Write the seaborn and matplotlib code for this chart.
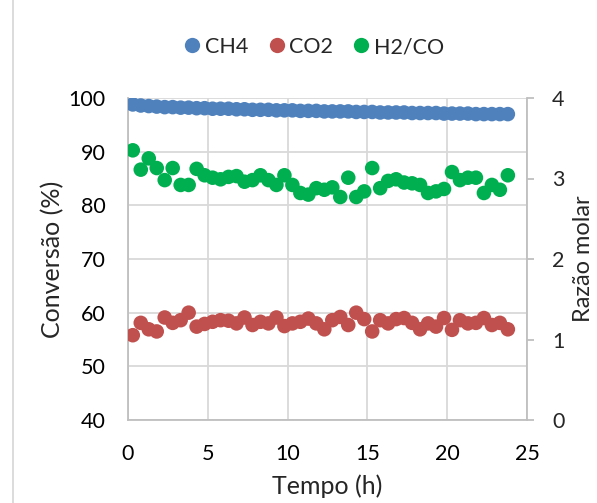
import numpy as np
import pandas as pd
import matplotlib
matplotlib.use("Agg")
from matplotlib import pyplot as plt
from matplotlib.lines import Line2D
import seaborn as sns

# tempo (h) - um ponto a cada 0,5 h
tempo = [0.3, 0.8, 1.3, 1.8, 2.3, 2.8, 3.3, 3.8, 4.3, 4.8, 5.3, 5.8,
         6.3, 6.8, 7.3, 7.8, 8.3, 8.8, 9.3, 9.8, 10.3, 10.8, 11.3, 11.8,
         12.3, 12.8, 13.3, 13.8, 14.3, 14.8, 15.3, 15.8, 16.3, 16.8, 17.3, 17.8,
         18.3, 18.8, 19.3, 19.8, 20.3, 20.8, 21.3, 21.8, 22.3, 22.8, 23.3, 23.8]

ch4 = [98.8, 98.6, 98.5, 98.4, 98.3, 98.3, 98.2, 98.2, 98.1, 98.1, 98.0, 98.0,
       98.0, 97.9, 97.9, 97.8, 97.8, 97.8, 97.7, 97.7, 97.7, 97.6, 97.6, 97.6,
       97.5, 97.5, 97.5, 97.5, 97.4, 97.4, 97.4, 97.3, 97.3, 97.3, 97.3, 97.2,
       97.2, 97.2, 97.2, 97.1, 97.1, 97.1, 97.1, 97.0, 97.0, 97.0, 97.0, 97.0]

co2 = [55.8, 58.1, 56.9, 56.5, 59.1, 58.1, 58.6, 60.0, 57.4, 57.9, 58.3, 58.6,
       58.5, 58.0, 59.1, 57.7, 58.3, 58.0, 59.1, 57.5, 58.0, 58.3, 58.9, 58.0,
       56.9, 58.6, 59.2, 57.7, 60.0, 58.8, 56.5, 58.6, 58.0, 58.8, 59.0, 58.1,
       56.9, 58.0, 57.4, 59.0, 56.8, 58.6, 58.0, 58.1, 59.0, 57.7, 58.1, 56.9]

h2_co = [3.35, 3.11, 3.25, 3.13, 2.98, 3.13, 2.92, 2.92, 3.12, 3.04, 3.01, 2.99,
         3.02, 3.03, 2.96, 2.98, 3.04, 2.98, 2.92, 3.04, 2.92, 2.82, 2.80, 2.88,
         2.86, 2.89, 2.77, 3.01, 2.77, 2.84, 3.13, 2.88, 2.97, 2.99, 2.95, 2.94,
         2.92, 2.82, 2.84, 2.87, 3.08, 2.98, 3.01, 3.01, 2.82, 2.92, 2.86, 3.04]

df = pd.DataFrame({"Tempo": tempo, "CH4": ch4, "CO2": co2, "H2/CO": h2_co})

azul, vermelho, verde = "#4F81BD", "#C0504D", "#00B050"
cinza = "#D9D9D9"

sns.set_style("white")
plt.rcParams["font.family"] = ["Lato", "DejaVu Sans"]

fig = plt.figure(figsize=(5.97, 5.03), dpi=100)
ax = fig.add_axes([128 / 597, 1 - 420 / 503, 399 / 597, 322 / 503])
ax2 = ax.twinx()

sns.scatterplot(data=df, x="Tempo", y="CH4", ax=ax, color=azul, s=110,
                edgecolor="none", zorder=3)
sns.scatterplot(data=df, x="Tempo", y="CO2", ax=ax, color=vermelho, s=110,
                edgecolor="none", zorder=3)
sns.scatterplot(data=df, x="Tempo", y="H2/CO", ax=ax2, color=verde, s=110,
                edgecolor="none", zorder=3)

ax.set_xlim(0, 25)
ax.set_ylim(40, 100)
ax2.set_ylim(0, 4)
ax.set_xticks(range(0, 26, 5))
ax.set_yticks(range(40, 101, 10))
ax2.set_yticks(range(0, 5))

ax.grid(True, color=cinza, linewidth=1.3)
ax.set_axisbelow(True)
ax2.grid(False)

for a in (ax, ax2):
    for s in a.spines.values():
        s.set_visible(False)
for a, lado in ((ax, "left"), (ax, "bottom"), (ax2, "right")):
    a.spines[lado].set_visible(True)
    a.spines[lado].set_color("#BFBFBF")
    a.spines[lado].set_linewidth(1.3)

ax.tick_params(axis="both", length=0, labelsize=15.5, colors="black", pad=16)
ax.tick_params(axis="x", pad=17)
ax2.tick_params(axis="y", length=5, width=1.3, color="#BFBFBF", labelsize=15.5,
                pad=13, direction="out")

ax.set_xlabel("Tempo (h)", fontsize=18, labelpad=8)
ax.set_ylabel("Conversão (%)", fontsize=18, labelpad=3)
ax2.set_ylabel("Razão molar", fontsize=17, labelpad=6)

handles = [Line2D([], [], marker="o", linestyle="none", markersize=11,
                  markerfacecolor=c, markeredgecolor="none")
           for c in (azul, vermelho, verde)]
fig.legend(handles, ["CH4", "CO2", "H2/CO"], loc="center", ncol=3,
           bbox_to_anchor=(314 / 597, 1 - 47 / 503), frameon=False,
           fontsize=15.5, handlelength=0.8, handletextpad=0.2,
           columnspacing=0.9)

fig.add_artist(Line2D([13 / 597, 13 / 597], [0, 1], color=cinza, linewidth=1.3))

fig.savefig("out.png", dpi=100)
